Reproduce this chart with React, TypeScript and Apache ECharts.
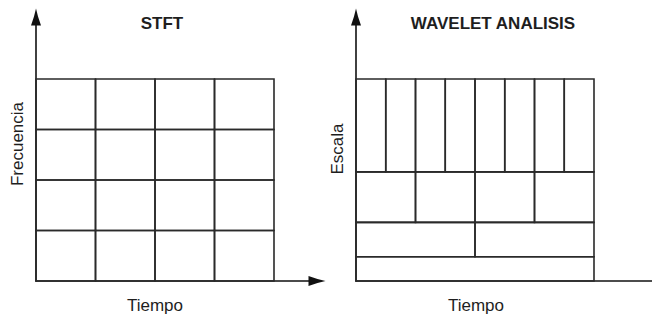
import React, { useEffect, useRef } from "react";
import * as echarts from "echarts";

// STFT: uniform tiling
const stftTimeEdges = [0, 1, 2, 3, 4];
const stftFreqEdges = [0, 1, 2, 3, 4];

// Wavelet: scale bands (bottom to top) and number of time cells per band
const waveletScaleEdges = [0, 12, 29, 54, 100];
const waveletCellsPerBand = [1, 2, 4, 8];
const waveletTimeSpan = 8;

const titles = ["STFT", "WAVELET ANALISIS"];
const xNames = ["Tiempo", "Tiempo"];
const yNames = ["Frecuencia", "Escala"];

const LINE = "#2a2a2a";
const TEXT = "#1e1e1e";
const FONT = "'Liberation Sans', Arial, sans-serif";
const ARROW = "path://M5,0 L7,8 L10,17 L0,17 L3,8 Z";

function buildStftCells() {
  const cells: number[][] = [];
  for (let i = 0; i < stftTimeEdges.length - 1; i++) {
    for (let j = 0; j < stftFreqEdges.length - 1; j++) {
      cells.push([stftTimeEdges[i], stftTimeEdges[i + 1], stftFreqEdges[j], stftFreqEdges[j + 1]]);
    }
  }
  return cells;
}

function buildWaveletCells() {
  const cells: number[][] = [];
  for (let b = 0; b < waveletCellsPerBand.length; b++) {
    const n = waveletCellsPerBand[b];
    const w = waveletTimeSpan / n;
    for (let k = 0; k < n; k++) {
      cells.push([k * w, (k + 1) * w, waveletScaleEdges[b], waveletScaleEdges[b + 1]]);
    }
  }
  return cells;
}

const renderCell = (params: any, api: any) => {
  const x0 = api.value(0), x1 = api.value(1), y0 = api.value(2), y1 = api.value(3);
  const p0 = api.coord([x0, y0]);
  const p1 = api.coord([x1, y1]);
  return {
    type: "rect",
    shape: { x: p0[0], y: p1[1], width: p1[0] - p0[0], height: p0[1] - p1[1] },
    style: { fill: "none", stroke: LINE, lineWidth: 1.6 },
  };
};

const axisBase = {
  type: "value" as const,
  axisLine: {
    show: true,
    symbol: ["none", ARROW],
    symbolSize: [11, 17],
    lineStyle: { color: "#111111", width: 1.6 },
  },
  axisTick: { show: false },
  axisLabel: { show: false },
  splitLine: { show: false },
};

export default function App() {
  const ref = useRef<HTMLDivElement>(null);
  useEffect(() => {
    document.body.style.margin = "0";
    if (!ref.current) return;
    const chart = echarts.init(ref.current, null, { renderer: "svg" });
    const textStyle = (text: string, size: number, bold: boolean) => ({
      text,
      fontSize: size,
      fontWeight: bold ? "bold" : "normal",
      fontFamily: FONT,
      fill: TEXT,
      textAlign: "center",
      textVerticalAlign: "middle",
    });
    chart.setOption({
      animation: false,
      backgroundColor: "#ffffff",
      grid: [
        { left: 36, top: 17, width: 281, height: 264, outerBoundsMode: "none" },
        { left: 356, top: 17, width: 308, height: 264, outerBoundsMode: "none" },
      ],
      xAxis: [
        { ...axisBase, gridIndex: 0, min: 0, max: (281 / 238) * 4 },
        { ...axisBase, gridIndex: 1, min: 0, max: (308 / 238) * waveletTimeSpan },
      ],
      yAxis: [
        { ...axisBase, gridIndex: 0, min: 0, max: (264 / 202) * 4 },
        { ...axisBase, gridIndex: 1, min: 0, max: (264 / 202) * 100 },
      ],
      series: [
        {
          type: "custom",
          xAxisIndex: 0,
          yAxisIndex: 0,
          renderItem: renderCell,
          data: buildStftCells(),
          silent: true,
        },
        {
          type: "custom",
          xAxisIndex: 1,
          yAxisIndex: 1,
          renderItem: renderCell,
          data: buildWaveletCells(),
          silent: true,
        },
      ],
      graphic: [
        { type: "text", x: 162, y: 23, style: textStyle(titles[0], 17, true) },
        { type: "text", x: 493, y: 23, style: textStyle(titles[1], 17, true) },
        { type: "text", x: 155, y: 305, style: textStyle(xNames[0], 17, false) },
        { type: "text", x: 476, y: 305, style: textStyle(xNames[1], 17, false) },
        { type: "text", x: 17, y: 144, rotation: Math.PI / 2, style: textStyle(yNames[0], 17, false) },
        { type: "text", x: 337, y: 149, rotation: Math.PI / 2, style: textStyle(yNames[1], 17, false) },
      ],
    });
    return () => chart.dispose();
  }, []);
  return <div ref={ref} style={{ width: 652, height: 314 }} />;
}
